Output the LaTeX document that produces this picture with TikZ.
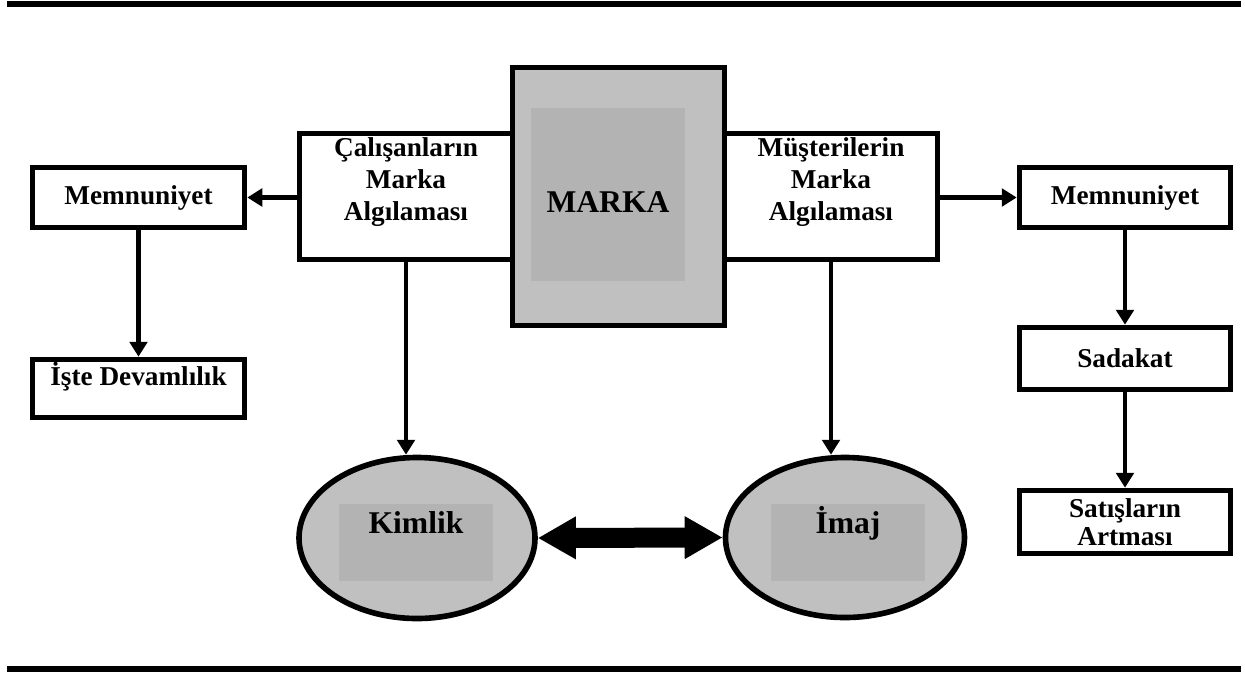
\documentclass[tikz,border=0pt]{standalone}
\usepackage{fontspec}
\setmainfont{Liberation Serif}
\usetikzlibrary{arrows.meta,shapes.geometric}
\definecolor{markagray}{HTML}{C0C0C0}
\definecolor{innergray}{HTML}{B3B3B3}

\begin{document}
\begin{tikzpicture}[
	box/.style={draw, line width=3.2pt, fill=white, inner sep=0pt, align=center,
		font=\fontsize{15.5}{18}\selectfont\bfseries},
	blob/.style={ellipse, draw, line width=3.2pt, fill=markagray, inner sep=0pt},
	shade/.style={fill=innergray, inner sep=0pt, font=\fontsize{18}{22}\selectfont\bfseries},
	arr/.style={line width=2.8pt, -{Triangle[length=8.5pt,width=10pt]}},
	bigarr/.style={line width=0.4cm, {Triangle[length=0.76cm,width=0.8cm]}-{Triangle[length=0.76cm,width=0.8cm]}}
]
	\useasboundingbox (0,0) rectangle (24.9,-13.44);

	%% Rules above and below
	\fill (0.14,-0.02) rectangle (24.82,-0.14);
	\fill (0.14,-13.32) rectangle (24.82,-13.44);

	%% Left column: employees
	\node at (2.77,-3.95) [box, minimum width=4.24cm, minimum height=1.2cm] (memL) {Memnuniyet};
	\node at (2.77,-7.77) [box, minimum width=4.24cm, text height=0.51cm, text depth=0.65cm] (iste) {İşte Devamlılık};
	\node at (8.12,-3.93) [box, minimum width=4.26cm, text height=1.73cm, text depth=0.79cm] (cal) {Çalışanların\\Marka\\Algılaması};

	%% Right column: customers
	\node at (16.62,-3.93) [box, minimum width=4.26cm, text height=1.73cm, text depth=0.79cm] (mus) {Müşterilerin\\Marka\\Algılaması};
	\node at (22.50,-3.95) [box, minimum width=4.22cm, minimum height=1.2cm] (memR) {Memnuniyet};
	\node at (22.50,-7.17) [box, minimum width=4.22cm, minimum height=1.24cm] (sad) {Sadakat};
	\node at (22.50,-10.44) [box, minimum width=4.22cm, minimum height=1.26cm,
		font=\fontsize{15.5}{16}\selectfont\bfseries] (sat) {Satışların\\Artması};

	%% The brand in the middle -- drawn last so it covers the side boxes
	\node at (12.37,-3.93) [draw, line width=3.2pt, fill=markagray, minimum width=4.24cm, minimum height=5.16cm] (marka) {};
	\node at (12.16,-3.89) [shade, minimum width=3.08cm, text height=2.08cm, text depth=1.38cm] (mkin) {MARKA};

	%% Identity and image
	\node at (8.34,-10.76) [blob, minimum width=4.72cm, minimum height=3.22cm] (kim) {};
	\node at (8.32,-10.85) [shade, minimum width=3.08cm, text height=0.58cm, text depth=0.96cm] (kimin) {Kimlik};
	\node at (16.90,-10.75) [blob, minimum width=4.78cm, minimum height=3.2cm] (ima) {};
	\node at (16.96,-10.85) [shade, minimum width=3.08cm, text height=0.58cm, text depth=0.96cm] (imain) {İmaj};

	%% Connectors
	\draw [arr] (cal.west |- memL.east) -- (memL.east);
	\draw [arr] (memL) -- (iste);
	\draw [arr] (cal.south) -- (cal.south |- kim.north);
	\draw [arr] (mus.east |- memR.west) -- (memR.west);
	\draw [arr] (memR) -- (sad);
	\draw [arr] (sad) -- (sat);
	\draw [arr] (mus.south) -- (mus.south |- ima.north);
	\draw [bigarr] (kim.east) -- (ima.west);	% both ways
\end{tikzpicture}
\end{document}
